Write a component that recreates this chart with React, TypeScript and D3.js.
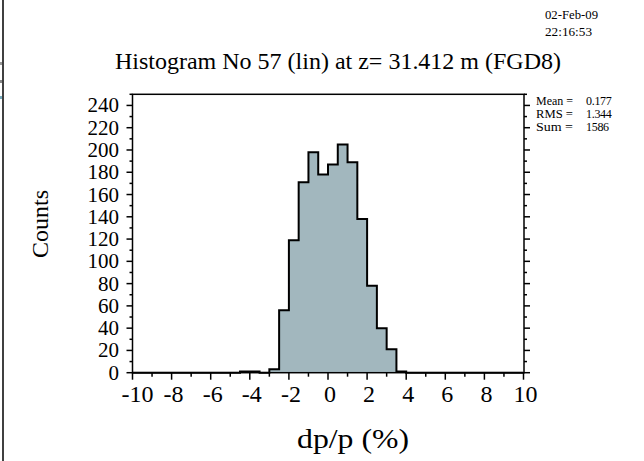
import React from "react";
import * as d3 from "d3";

const binLow: number[] = [-4.5, -4, -3.5, -3, -2.5, -2, -1.5, -1, -0.5, 0, 0.5, 1, 1.5, 2, 2.5, 3, 3.5];
const counts: number[] = [1, 1, 0, 3, 56, 119, 171, 198, 178, 187, 205, 189, 138, 78, 40, 21, 1];
const binWidth = 0.5;
const xTickLabels: number[] = [-10, -8, -6, -4, -2, 0, 2, 4, 6, 8, 10];
const yTickLabels: number[] = [0, 20, 40, 60, 80, 100, 120, 140, 160, 180, 200, 220, 240];
const statNames: string[] = ["Mean =", "RMS =", "Sum ="];
const statValues: string[] = ["0.177", "1.344", "1586"];
const title = "Histogram No 57 (lin) at z= 31.412 m (FGD8)";
const dateLines: string[] = ["02-Feb-09", "22:16:53"];

const FONT = "'Liberation Serif', 'DejaVu Serif', serif";

export default function App() {
  const L = 132.5, R = 524, T = 94.3, B = 372.7;
  const x = d3.scaleLinear().domain([-10, 10]).range([L, 523.5]);
  const y = d3.scaleLinear().domain([0, 250]).range([B, T]);

  // ROOT-style step outline (no inner bin separators)
  const pts: [number, number][] = [];
  pts.push([x(-10), y(0)]);
  binLow.forEach((lo, i) => {
    pts.push([x(lo), y(counts[i])]);
    pts.push([x(lo + binWidth), y(counts[i])]);
  });
  const withDrops: [number, number][] = [];
  pts.forEach((p, i) => {
    if (i > 0) {
      const prev = withDrops[withDrops.length - 1];
      if (prev[1] !== p[1] && prev[0] !== p[0]) withDrops.push([p[0], prev[1]]);
    }
    withDrops.push(p);
  });
  const last = withDrops[withDrops.length - 1];
  withDrops.push([last[0], y(0)]);
  withDrops.push([x(10), y(0)]);
  const outline = d3.line()(withDrops) || "";

  const yMinor = d3.range(0, 251, 10);
  const xMinor = d3.range(-10, 10.01, 1);

  return (
    <svg width={644} height={461} style={{ position: "absolute", left: 0, top: 0, background: "#fff" }}>
      <rect x={0} y={0} width={644} height={461} fill="#fff" />
      <line x1={3} y1={0} x2={3} y2={461} stroke="#000" strokeWidth={1.5} />
      <rect x={0} y={62} width={2} height={3} fill="#999" />
      <rect x={0} y={80} width={2} height={3} fill="#888" />
      <rect x={0} y={96} width={2} height={3} fill="#7ab" />

      {/* histogram fill + outline */}
      <path d={outline + "Z"} fill="#a2b7be" stroke="none" />
      <path d={outline} fill="none" stroke="#000" strokeWidth={2} strokeLinejoin="miter" />

      {/* frame */}
      <rect x={L} y={T} width={R - L} height={B - T} fill="none" stroke="#000" strokeWidth={1.5} />

      {/* y ticks left & right */}
      {yMinor.map((v) => {
        const major = v % 20 === 0;
        const len = major ? 6 : 3;
        return (
          <g key={"y" + v}>
            <line x1={L} x2={L - len} y1={y(v)} y2={y(v)} stroke="#000" strokeWidth={1.5} />
            <line x1={R} x2={R + len} y1={y(v)} y2={y(v)} stroke="#000" strokeWidth={1.5} />
          </g>
        );
      })}
      {yTickLabels.map((v) => (
        <text key={"yl" + v} x={119} y={y(v) + 7} textAnchor="end" fontFamily={FONT} fontSize={21} fill="#000">
          {v}
        </text>
      ))}

      {/* x ticks */}
      {xMinor.map((v) => {
        const major = Math.round(v) % 2 === 0;
        const len = major ? 7 : 4;
        return <line key={"x" + v} x1={x(v)} x2={x(v)} y1={B} y2={B + len} stroke="#000" strokeWidth={1.5} />;
      })}
      {xTickLabels.map((v) => (
        <text key={"xl" + v} x={x(v) + (v === -10 ? 5 : 2)} y={402} textAnchor="middle" fontFamily={FONT} fontSize={24} fill="#000">
          {v}
        </text>
      ))}

      {/* titles */}
      <text x={338} y={69} textAnchor="middle" fontFamily={FONT} fontSize={24} textLength={446} lengthAdjust="spacingAndGlyphs" fill="#000">
        {title}
      </text>
      <text x={353} y={448} textAnchor="middle" fontFamily={FONT} fontSize={27} textLength={112} lengthAdjust="spacingAndGlyphs" fill="#000">
        dp/p (%)
      </text>
      <text transform="translate(48,224) rotate(-90)" textAnchor="middle" fontFamily={FONT} fontSize={24} fill="#000">
        Counts
      </text>

      {/* date */}
      {dateLines.map((s, i) => (
        <text key={s} x={545} y={19 + i * 17} fontFamily={FONT} fontSize={13} textLength={i === 0 ? 53 : 47} lengthAdjust="spacingAndGlyphs" fill="#000">
          {s}
        </text>
      ))}

      {/* stats */}
      {statNames.map((s, i) => (
        <g key={s}>
          <text x={536} y={105 + i * 13} fontFamily={FONT} fontSize={12} textLength={37} lengthAdjust="spacingAndGlyphs" fill="#000">
            {s}
          </text>
          <text x={586} y={105 + i * 13} fontFamily={FONT} fontSize={12} letterSpacing={-0.3} fill="#000">
            {statValues[i]}
          </text>
        </g>
      ))}
    </svg>
  );
}
